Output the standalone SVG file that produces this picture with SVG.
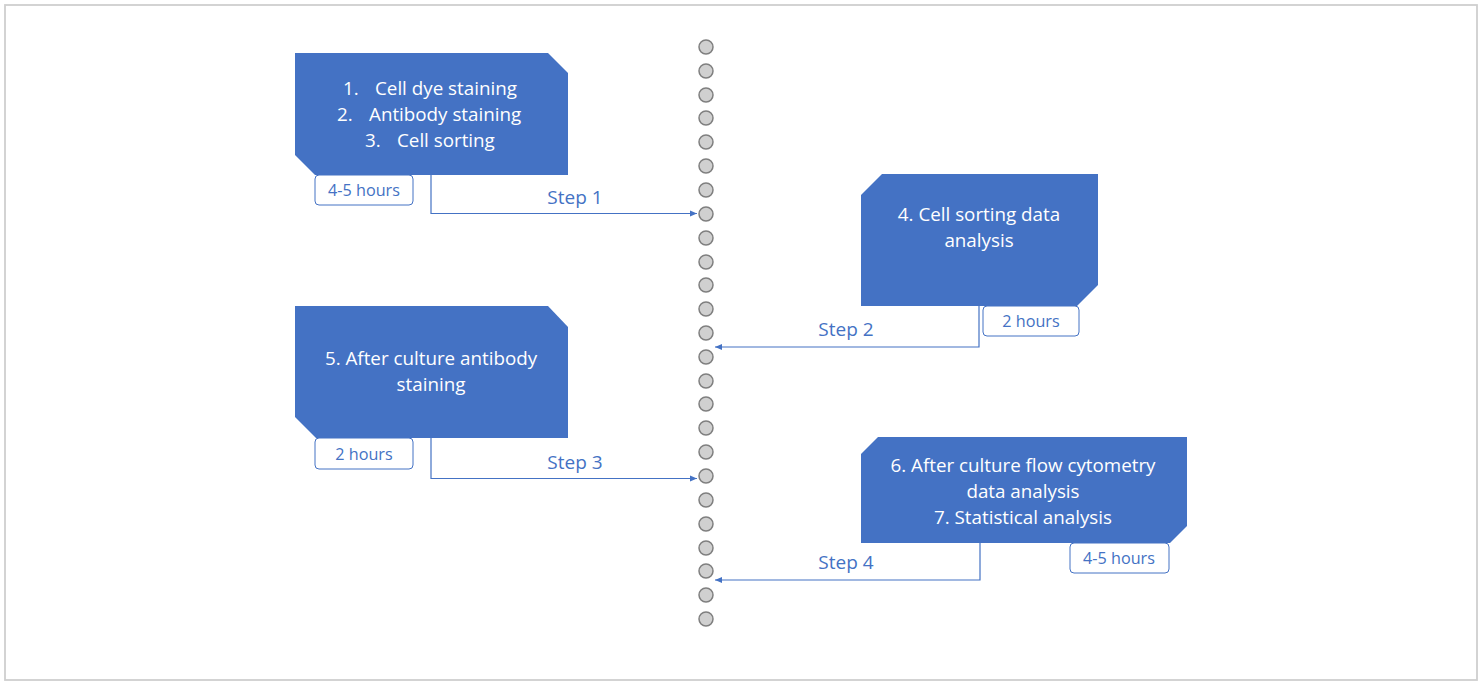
<svg xmlns="http://www.w3.org/2000/svg" width="1483" height="683" viewBox="0 0 1483 683">
<defs>
<style>
.box{fill:#4472c4;}
.bt{fill:#fff;font-family:"Open Sans","Liberation Sans",sans-serif;font-size:18.8px;text-anchor:middle;}
.tag{fill:#fff;stroke:#4472c4;stroke-width:1;}
.tt{fill:#4472c4;font-family:"Open Sans","Liberation Sans",sans-serif;font-size:16.2px;text-anchor:middle;}
.st{fill:#4472c4;font-family:"Open Sans","Liberation Sans",sans-serif;font-size:19px;text-anchor:middle;}
.con{fill:none;stroke:#4472c4;stroke-width:1.2;}
.dot{fill:#d0d0d0;stroke:#7f7f7f;stroke-width:1.5;}
</style>
<marker id="arr" markerWidth="8" markerHeight="8" refX="7" refY="4" orient="auto" markerUnits="userSpaceOnUse">
<path d="M0,1 L7,4 L0,7 Z" fill="#4472c4"/>
</marker>
</defs>
<rect x="5" y="5" width="1472" height="675" fill="#fff" stroke="#cfcfcf" stroke-width="1.8"/>
<g id="timeline">
<circle class="dot" cx="706" cy="47" r="7"/>
<circle class="dot" cx="706" cy="71" r="7"/>
<circle class="dot" cx="706" cy="95" r="7"/>
<circle class="dot" cx="706" cy="118" r="7"/>
<circle class="dot" cx="706" cy="142" r="7"/>
<circle class="dot" cx="706" cy="166" r="7"/>
<circle class="dot" cx="706" cy="190" r="7"/>
<circle class="dot" cx="706" cy="214" r="7"/>
<circle class="dot" cx="706" cy="238" r="7"/>
<circle class="dot" cx="706" cy="262" r="7"/>
<circle class="dot" cx="706" cy="285" r="7"/>
<circle class="dot" cx="706" cy="309" r="7"/>
<circle class="dot" cx="706" cy="333" r="7"/>
<circle class="dot" cx="706" cy="357" r="7"/>
<circle class="dot" cx="706" cy="381" r="7"/>
<circle class="dot" cx="706" cy="404" r="7"/>
<circle class="dot" cx="706" cy="428" r="7"/>
<circle class="dot" cx="706" cy="452" r="7"/>
<circle class="dot" cx="706" cy="476" r="7"/>
<circle class="dot" cx="706" cy="500" r="7"/>
<circle class="dot" cx="706" cy="524" r="7"/>
<circle class="dot" cx="706" cy="548" r="7"/>
<circle class="dot" cx="706" cy="571" r="7"/>
<circle class="dot" cx="706" cy="595" r="7"/>
<circle class="dot" cx="706" cy="619" r="7"/>
</g>
<g id="connectors">
<path class="con" d="M431,175 V213.5 H697" marker-end="url(#arr)"/>
<path class="con" d="M979,306 V347 H715" marker-end="url(#arr)"/>
<path class="con" d="M431,438 V478.5 H697" marker-end="url(#arr)"/>
<path class="con" d="M980,543 V580 H715" marker-end="url(#arr)"/>
<text class="st" x="575" y="204">Step 1</text>
<text class="st" x="846" y="336">Step 2</text>
<text class="st" x="575" y="469">Step 3</text>
<text class="st" x="846" y="569">Step 4</text>
</g>
<g id="node1">
<path class="box" d="M295,53 H548 L568,73 V175 H315 L295,155 Z"/>
<text class="bt" y="95"><tspan x="343" text-anchor="start">1.</tspan><tspan x="375" text-anchor="start">Cell dye staining</tspan></text>
<text class="bt" y="121"><tspan x="337" text-anchor="start">2.</tspan><tspan x="369" text-anchor="start">Antibody staining</tspan></text>
<text class="bt" y="147"><tspan x="365" text-anchor="start">3.</tspan><tspan x="397" text-anchor="start">Cell sorting</tspan></text>
<rect class="tag" x="315" y="175" width="98" height="30" rx="4"/>
<text class="tt" x="364" y="196">4-5 hours</text>
</g>
<g id="node2">
<path class="box" d="M882,174 H1098 V285 L1077,306 H861 V195 Z"/>
<text class="bt" x="979" y="221">4. Cell sorting data</text>
<text class="bt" x="979" y="247">analysis</text>
<rect class="tag" x="983" y="306" width="96" height="30" rx="4"/>
<text class="tt" x="1031" y="327">2 hours</text>
</g>
<g id="node3">
<path class="box" d="M295,306 H548 L568,327 V438 H316 L295,417 Z"/>
<text class="bt" x="431" y="365">5. After culture antibody</text>
<text class="bt" x="431" y="391">staining</text>
<rect class="tag" x="315" y="438" width="98" height="31" rx="4"/>
<text class="tt" x="364" y="460">2 hours</text>
</g>
<g id="node4">
<path class="box" d="M878,437 H1187 V526 L1170,543 H861 V454 Z"/>
<text class="bt" x="1023" y="472">6. After culture flow cytometry</text>
<text class="bt" x="1023" y="498">data analysis</text>
<text class="bt" x="1023" y="524">7. Statistical analysis</text>
<rect class="tag" x="1070" y="543" width="99" height="30" rx="4"/>
<text class="tt" x="1119" y="564">4-5 hours</text>
</g>
</svg>
